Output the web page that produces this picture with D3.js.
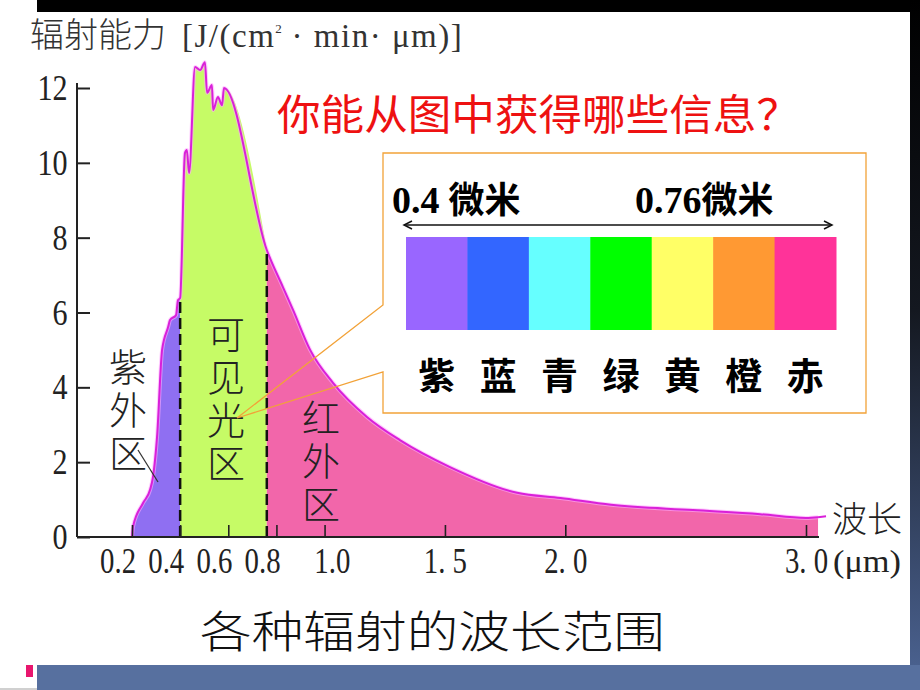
<!DOCTYPE html>
<html><head><meta charset="utf-8">
<script src="https://cdn.jsdelivr.net/npm/d3@7"></script>
<style>body{margin:0;background:#fff}svg{display:block}</style>
</head><body>
<svg id="c" width="920" height="690"></svg>
<script>
// ---- data ----
const wavelength = [0.20,0.204,0.246,0.275,0.287,0.304,0.325,0.35,0.358,0.383,0.391,0.40,0.42,0.428,0.437,0.462,0.483,0.503,0.512,0.532,0.537,0.557,0.574,0.582,0.76,0.827,0.869,0.94,1.035,1.176,1.313,1.521,1.80,1.98,2.19,2.53,2.81,3.0,3.05];
const energy     = [0,0.27,0.91,1.26,1.6,2.67,5.0,5.61,5.8,5.93,6.33,6.39,10.26,10.34,9.73,12.56,12.48,12.69,11.87,12.08,11.41,11.76,11.54,12.0,7.67,6.68,6.07,5.0,4.12,3.21,2.59,1.87,1.18,1.04,0.86,0.72,0.61,0.51,0.53];
const xTicks = [0.2,0.4,0.6,0.8,1.0,1.5,2.0,3.0];
const xTickLabels = ["0.2","0.4","0.6","0.8","1.0","1. 5","2. 0","3. 0"];
const yTicks = [0,2,4,6,8,10,12];
const bandBounds = [0.2,0.4,0.76,3.05];
const bandNames = ["紫外区","可见光区","红外区"];
const spectrumNames = ["紫","蓝","青","绿","黄","橙","赤"];
const title = "辐射能力";
const unitText = "[J/(cm";
const unitTail = " · min· μm)]";
const question = "你能从图中获得哪些信息？";
const caption = "各种辐射的波长范围";
const rangeLeft = "0.4 微米", rangeRight = "0.76微米";

// ---- styles ----
const bandColors = ["#8f6ff2","#c6fb66","#f266aa"];
const specColors = ["#9966ff","#3366ff","#66ffff","#00ff00","#ffff66","#ff9933","#ff3399"];
const cjk = "'Noto Sans CJK SC','Noto Sans CJK JP',sans-serif";
const serif = "'Liberation Serif','DejaVu Serif',serif";

const svg = d3.select("#c");
const pts = wavelength.map((w,i)=>[w,energy[i]]);
const x = d3.scaleLinear().domain([0.2,3.0]).range([132,806]);
const y = d3.scaleLinear().domain([0,12]).range([537,88]);

function interp(v){
  for(let i=1;i<pts.length;i++){
    if(v<=pts[i][0]){const a=pts[i-1],b=pts[i];const t=(v-a[0])/(b[0]-a[0]);return a[1]+t*(b[1]-a[1]);}
  }
  return pts[pts.length-1][1];
}

// frame decorations
const defs = svg.append("defs");
const g1 = defs.append("linearGradient").attr("id","rs").attr("x1",0).attr("x2",0).attr("y1",0).attr("y2",1);
g1.append("stop").attr("offset","0").attr("stop-color","#000");
g1.append("stop").attr("offset","0.45").attr("stop-color","#141820");
g1.append("stop").attr("offset","1").attr("stop-color","#4d6595");
svg.append("rect").attr("x",37).attr("y",0).attr("width",883).attr("height",12).attr("fill","#000");
svg.append("rect").attr("x",910).attr("y",0).attr("width",10).attr("height",690).attr("fill","url(#rs)");
svg.append("rect").attr("x",37).attr("y",665).attr("width",883).attr("height",25).attr("fill","#57709f");
svg.append("rect").attr("x",26).attr("y",665).attr("width",7).attr("height",12).attr("fill","#e8166e");
svg.append("rect").attr("x",0).attr("y",688).attr("width",37).attr("height",2).attr("fill","#d0d0d0");

// bands
const curve = d3.curveMonotoneX;
const area = d3.area().curve(curve).x(d=>x(d[0])).y0(y(0)).y1(d=>y(d[1]));
for(let b=0;b<3;b++){
  const a0=bandBounds[b], a1=bandBounds[b+1];
  const seg=[[a0,interp(a0)]].concat(pts.filter(p=>p[0]>a0&&p[0]<a1)).concat([[a1,interp(a1)]]);
  svg.append("path").attr("d",area(seg)).attr("fill",bandColors[b]);
}
// curve
const line = d3.line().curve(curve).x(d=>x(d[0])).y(d=>y(d[1]));
svg.append("path").attr("d",line(pts)).attr("fill","none").attr("stroke","#ffaaff").attr("stroke-width",4).attr("opacity",0.6);
svg.append("path").attr("d",line(pts)).attr("fill","none").attr("stroke","#d920d9").attr("stroke-width",2);
const last = pts[pts.length-1];
svg.append("line").attr("x1",x(last[0])).attr("y1",y(last[1])).attr("x2",x(last[0])+8).attr("y2",y(last[1])-1)
  .attr("stroke","#d920d9").attr("stroke-width",2);

// dashed boundaries
[0.4,0.76].forEach(v=>{
  svg.append("line").attr("x1",x(v)).attr("x2",x(v)).attr("y1",y(0)).attr("y2",y(interp(v)))
    .attr("stroke","#111").attr("stroke-width",2.5).attr("stroke-dasharray","11,5");
});

// axes
svg.append("line").attr("x1",77).attr("x2",819).attr("y1",y(0)).attr("y2",y(0)).attr("stroke","#222").attr("stroke-width",2);
const xa = svg.append("g").attr("transform",`translate(0,${y(0)})`)
  .call(d3.axisBottom(x).tickValues(xTicks).tickSizeInner(-12).tickSizeOuter(0).tickPadding(10).tickFormat((d,i)=>xTickLabels[i]));
xa.select(".domain").remove();
xa.selectAll(".tick line").attr("stroke","#222").attr("stroke-width",1.6);
xa.selectAll(".tick text").attr("font-family",serif).attr("font-size",36).attr("fill","#222")
  .attr("y",36).attr("dy",0).attr("transform","scale(0.8,1)")
  .attr("dx",d=>d<1?-18:(d===1?9:0));
svg.append("text").attr("x",x(3.0)+27).attr("y",y(0)+35).attr("font-family",serif).attr("font-size",32).attr("fill","#222")
  .attr("textLength",68).attr("lengthAdjust","spacingAndGlyphs").text("(μm)");

const ya = svg.append("g").attr("transform","translate(77,0)")
  .call(d3.axisLeft(y).tickValues(yTicks).tickSizeInner(-13).tickSizeOuter(0).tickPadding(11));
ya.select(".domain").attr("stroke","#222").attr("stroke-width",2).attr("d",`M0,${y(0)}V83`);
ya.selectAll(".tick line").attr("stroke","#222").attr("stroke-width",2);
ya.selectAll(".tick text").attr("font-family",serif).attr("font-size",35).attr("fill","#222").attr("dy","0.33em")
  .attr("transform","scale(0.86,1)");

// axis end label
svg.append("text").attr("x",832).attr("y",532).attr("font-family",cjk).attr("font-weight",300).attr("font-size",35).attr("fill","#222").text("波长");

// title
const t = svg.append("text").attr("x",30).attr("y",47).attr("fill","#333");
t.append("tspan").attr("font-family",cjk).attr("font-weight",300).attr("font-size",34).text(title);
t.append("tspan").attr("font-family",serif).attr("font-size",33).attr("letter-spacing",1.5).attr("dx",16).text(unitText);
t.append("tspan").attr("font-family",serif).attr("font-size",13).attr("dy",-14).text("2");
t.append("tspan").attr("font-family",serif).attr("font-size",33).attr("letter-spacing",1.5).attr("dy",14).text(unitTail);

// region labels (vertical writing, one text each)
const regionPos = [{x:128,y:348},{x:226,y:315},{x:321,y:399}];
bandNames.forEach((n,i)=>{
  svg.append("text").attr("x",regionPos[i].x).attr("y",regionPos[i].y)
    .style("writing-mode","vertical-rl").attr("letter-spacing",5)
    .attr("font-family",cjk).attr("font-weight",300).attr("font-size",38).attr("fill","#222").text(n);
});
svg.append("line").attr("x1",138).attr("y1",450).attr("x2",158).attr("y2",482).attr("stroke","#333").attr("stroke-width",1.3);

// question
svg.append("text").attr("x",277).attr("y",130).attr("font-family",cjk).attr("font-size",42).attr("fill","#ee1111")
  .attr("textLength",523).attr("lengthAdjust","spacingAndGlyphs").text(question);

// callout box
svg.append("path").attr("d","M383,153H866V413H383V372L237,418L383,305Z").attr("fill","none")
  .attr("stroke","#f2a238").attr("stroke-width",1.3);

// range labels
function rangeLabel(txt,x0){
  const num = txt.match(/^[\d.]+/)[0], rest = txt.slice(num.length);
  const tt = svg.append("text").attr("x",x0).attr("y",213).attr("fill","#000").attr("font-weight","bold");
  tt.append("tspan").attr("font-family",serif).attr("font-size",38).text(num.trim());
  tt.append("tspan").attr("font-family",cjk).attr("font-size",36).attr("dx",rest.startsWith(" ")?9:0).text(rest.trim());
}
rangeLabel(rangeLeft,392);
rangeLabel(rangeRight,635);
svg.append("line").attr("x1",404).attr("x2",832).attr("y1",225).attr("y2",225).attr("stroke","#111").attr("stroke-width",1.5);
svg.append("path").attr("d","M412,221L404,225L412,229").attr("fill","none").attr("stroke","#111").attr("stroke-width",1.5);
svg.append("path").attr("d","M824,221L832,225L824,229").attr("fill","none").attr("stroke","#111").attr("stroke-width",1.5);

// spectrum bar
const sx = d3.scaleBand().domain(spectrumNames).range([406,836]);
svg.selectAll("rect.sp").data(spectrumNames).enter().append("rect").attr("class","sp")
  .attr("x",d=>sx(d)).attr("y",237).attr("width",sx.bandwidth()+0.5).attr("height",93)
  .attr("fill",(d,i)=>specColors[i]);
svg.selectAll("text.sp").data(spectrumNames).enter().append("text").attr("class","sp")
  .attr("x",d=>sx(d)+sx.bandwidth()/2).attr("y",390).attr("text-anchor","middle")
  .attr("font-family",cjk).attr("font-weight","bold").attr("font-size",37).attr("fill","#000").text(d=>d);

// caption
svg.append("text").attr("x",200).attr("y",648).attr("font-family",cjk).attr("font-weight",300).attr("font-size",44)
  .attr("fill","#111").attr("textLength",465).attr("lengthAdjust","spacingAndGlyphs").text(caption);
</script>
</body></html>
